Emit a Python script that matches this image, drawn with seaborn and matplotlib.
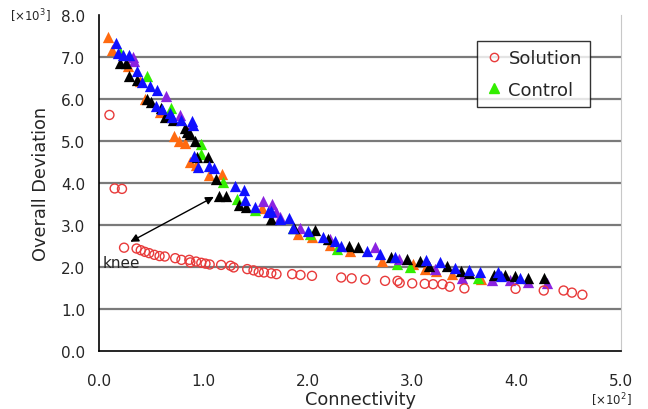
import numpy as np
import matplotlib
matplotlib.use("Agg")
import matplotlib.pyplot as plt
import seaborn as sns

# Solution (hollow red circles)
sol_x = [0.10, 0.15, 0.22, 0.24, 0.36, 0.40, 0.44, 0.48, 0.53, 0.58, 0.63, 0.73, 0.79, 0.865, 0.875,
         0.93, 0.98, 1.02, 1.06, 1.17, 1.26, 1.29, 1.42, 1.48, 1.53, 1.58, 1.65, 1.70, 1.85, 1.93,
         2.04, 2.32, 2.42, 2.55, 2.74, 2.86, 2.88, 3.00, 3.12, 3.20, 3.29, 3.36, 3.50, 3.99, 4.26,
         4.45, 4.53, 4.63]
sol_y = [5.62, 3.87, 3.86, 2.46, 2.44, 2.40, 2.36, 2.33, 2.29, 2.26, 2.25, 2.21, 2.17, 2.17, 2.11,
         2.13, 2.10, 2.08, 2.06, 2.05, 2.03, 1.99, 1.95, 1.92, 1.88, 1.87, 1.85, 1.83, 1.83, 1.81,
         1.79, 1.75, 1.73, 1.70, 1.67, 1.67, 1.62, 1.61, 1.60, 1.59, 1.59, 1.53, 1.49, 1.48, 1.44,
         1.44, 1.39, 1.34]

# Control runs (triangles), one list pair per colour
orange_x = [0.09, 0.12, 0.28, 0.39, 0.44, 0.58, 0.72, 0.77, 0.82, 0.87, 0.93, 1.05, 1.18, 1.56,
            1.91, 2.04, 2.21, 2.40, 2.71, 3.01, 3.12, 3.23, 3.38, 3.66]
orange_y = [7.47, 7.17, 6.79, 6.44, 6.00, 5.68, 5.11, 5.01, 4.95, 4.49, 4.43, 4.18, 4.21, 3.40,
            2.79, 2.71, 2.52, 2.39, 2.15, 2.07, 1.95, 1.91, 1.83, 1.71]

green_x = [0.20, 0.46, 0.69, 0.98, 0.98, 1.19, 1.32, 1.49, 1.86, 2.02, 2.28, 2.85, 2.98, 3.63]
green_y = [7.13, 6.55, 5.78, 4.93, 4.69, 4.02, 3.62, 3.35, 2.92, 2.79, 2.43, 2.07, 1.99, 1.74]

purple_x = [0.33, 0.34, 0.64, 0.78, 0.89, 1.57, 1.66, 1.70, 1.73, 1.93, 2.21, 2.64, 2.87, 3.22,
            3.48, 3.76, 3.94, 4.11, 4.29]
purple_y = [6.99, 6.91, 6.06, 5.62, 5.40, 3.56, 3.50, 3.32, 3.18, 2.94, 2.67, 2.47, 2.19, 1.95,
            1.74, 1.70, 1.68, 1.64, 1.62]

black_x = [0.20, 0.26, 0.29, 0.36, 0.46, 0.50, 0.59, 0.63, 0.71, 0.82, 0.84, 0.87, 0.92, 0.94,
           1.04, 1.12, 1.15, 1.22, 1.34, 1.41, 1.65, 1.87, 2.07, 2.19, 2.39, 2.48, 2.80, 2.95,
           3.07, 3.16, 3.33, 3.47, 3.54, 3.78, 3.89, 3.98, 4.11, 4.26]
black_y = [6.86, 6.85, 6.55, 6.46, 6.01, 5.92, 5.78, 5.56, 5.51, 5.32, 5.21, 5.17, 5.01, 4.61,
           4.61, 4.10, 3.70, 3.70, 3.48, 3.44, 3.14, 2.94, 2.87, 2.67, 2.49, 2.47, 2.23, 2.19,
           2.15, 2.03, 2.03, 1.91, 1.86, 1.81, 1.81, 1.79, 1.74, 1.74]

blue_x = [0.16, 0.18, 0.23, 0.29, 0.36, 0.41, 0.49, 0.56, 0.55, 0.60, 0.68, 0.70, 0.79, 0.89,
          0.90, 0.91, 0.95, 1.05, 1.10, 1.30, 1.39, 1.40, 1.49, 1.62, 1.65, 1.73, 1.82, 1.86,
          2.00, 2.15, 2.26, 2.32, 2.57, 2.69, 2.84, 3.13, 3.27, 3.41, 3.54, 3.65, 3.82, 3.85, 4.03]
blue_y = [7.33, 7.09, 7.05, 7.05, 6.67, 6.41, 6.32, 6.22, 5.84, 5.76, 5.67, 5.56, 5.51, 5.48,
          5.38, 4.65, 4.37, 4.41, 4.35, 3.94, 3.83, 3.60, 3.44, 3.30, 3.34, 3.14, 3.16, 2.94,
          2.86, 2.71, 2.63, 2.51, 2.39, 2.31, 2.25, 2.17, 2.11, 1.97, 1.94, 1.89, 1.89, 1.78, 1.74]

x_ticks = [0.0, 1.0, 2.0, 3.0, 4.0, 5.0]
y_ticks = [0.0, 1.0, 2.0, 3.0, 4.0, 5.0, 6.0, 7.0, 8.0]

sns.set_style("white")
plt.rcParams['font.family'] = ['DejaVu Sans']

fig = plt.figure(figsize=(6.48, 4.10), dpi=100)
ax = fig.add_axes([99 / 648, 58 / 410, 522 / 648, 336 / 410])

# horizontal grid lines
for yv in y_ticks[1:-1]:
    ax.axhline(yv, color="#7a7a7a", lw=1.6, zorder=0)

tri_kw = dict(marker="^", s=66, linewidth=0, ax=ax, legend=False)
sns.scatterplot(x=orange_x, y=orange_y, color="#ff6a10", zorder=2, **tri_kw)
sns.scatterplot(x=green_x, y=green_y, color="#33ee00", zorder=3, **tri_kw)
sns.scatterplot(x=purple_x, y=purple_y, color="#8a22e0", zorder=4, **tri_kw)
sns.scatterplot(x=black_x, y=black_y, color="#000000", zorder=5, **tri_kw)
sns.scatterplot(x=blue_x, y=blue_y, color="#1010ff", zorder=6, **tri_kw)

sns.scatterplot(x=sol_x, y=sol_y, marker="o", s=42, facecolor="none", edgecolor="#e83a3a",
                linewidth=1.0, ax=ax, legend=False, zorder=7)

ax.set_xlim(0, 5)
ax.set_ylim(0, 8)
ax.set_xticks(x_ticks)
ax.set_yticks(y_ticks)
ax.set_xticklabels([f"{v:.1f}" for v in x_ticks], fontsize=11)
ax.set_yticklabels([f"{v:.1f}" for v in y_ticks], fontsize=11)
ax.tick_params(axis="y", direction="out", length=4, width=1, color="black", pad=6)
ax.tick_params(axis="x", direction="out", length=4, width=1, color="black", pad=12)

ax.spines["top"].set_visible(False)
ax.spines["right"].set_color("#c8c8c8")
ax.spines["left"].set_color("black")
ax.spines["bottom"].set_color("black")
ax.spines["left"].set_linewidth(1.2)
ax.spines["bottom"].set_linewidth(1.2)

ax.set_xlabel("Connectivity", fontsize=12.8, labelpad=1)
ax.set_ylabel("Overall Deviation", fontsize=12.8, labelpad=8)

fig.text(10 / 648, 1 - 16 / 410, "[×10$^3$]", fontsize=8.5, va="center", ha="left")
fig.text(632 / 648, 1 / 410, "[×10$^2$]", fontsize=8.5, va="bottom", ha="right")

# knee annotation
ax.annotate("", xy=(0.30, 2.60), xytext=(1.10, 3.67),
            arrowprops=dict(arrowstyle="<|-|>", color="black", lw=1.0,
                            mutation_scale=12, shrinkA=0, shrinkB=0), zorder=8)
ax.text(0.03, 2.11, "knee", fontsize=11, va="center", ha="left")

# legend
h1 = plt.Line2D([], [], marker="o", ls="", mfc="none", mec="#e83a3a", ms=6)
h2 = plt.Line2D([], [], marker="^", ls="", mfc="#33ee00", mec="#33ee00", ms=7)
leg = ax.legend([h1, h2], ["Solution", "Control"], loc="upper right",
                bbox_to_anchor=(0.9406, 0.9226), borderaxespad=0, fontsize=13, frameon=True,
                fancybox=False, edgecolor="black", handletextpad=0.3,
                handlelength=1.0, borderpad=0.45, labelspacing=0.75)
leg.get_frame().set_linewidth(1.0)

fig.savefig("out.png", dpi=100)
